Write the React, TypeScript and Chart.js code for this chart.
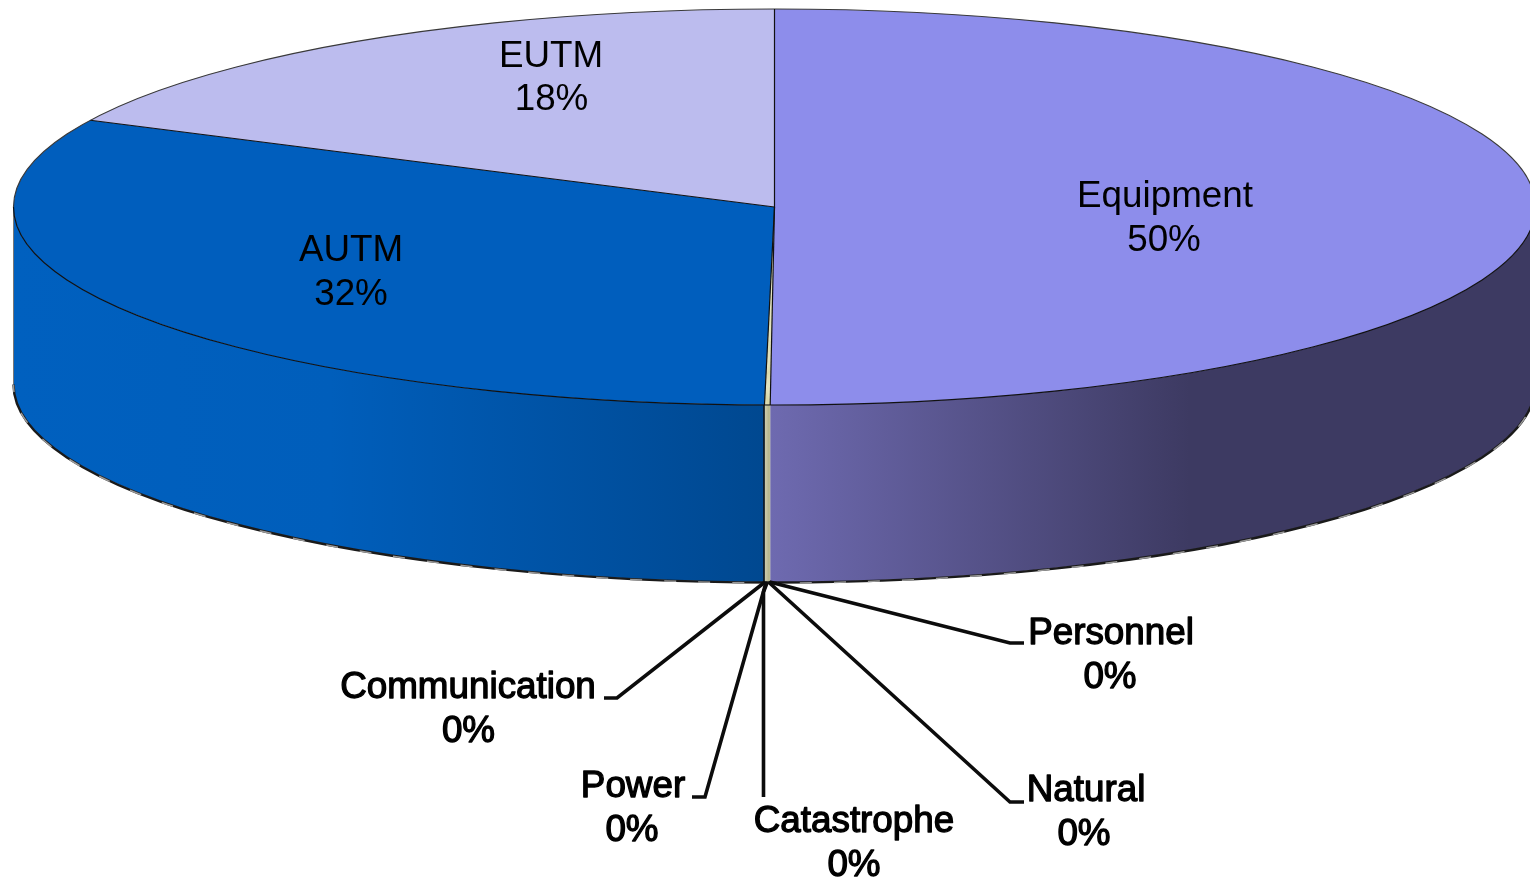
import React, { useEffect, useRef } from "react";
import { Chart, registerables } from "chart.js";

Chart.register(...registerables);

const categories = ["Equipment", "Personnel", "Natural", "Catastrophe", "Power", "Communication", "AUTM", "EUTM"];
const shares = [50.08, 0.024, 0.024, 0.024, 0.024, 0.024, 32.0, 17.78];
const topColors = ["#8d8deb", "#d8d8a8", "#d8d8a8", "#d8d8a8", "#d8d8a8", "#d8d8a8", "#005ebd", "#bcbcee"];
const wallStops: [number, string][][] = [
  [[770, "#6e6ab0"], [1190, "#3d3a62"], [1530, "#3d3a62"]],
  [[764, "#b8b88e"]], [[764, "#b8b88e"]], [[764, "#b8b88e"]], [[764, "#b8b88e"]], [[764, "#b8b88e"]],
  [[13, "#0060bf"], [330, "#005ebb"], [765, "#004890"]],
  [[13, "#bcbcee"]],
];

// layout of the picture, in canvas pixels
const WIDTH = 1530;
const HEIGHT = 878;
const CX = 774.5;
const CY = 207;
const RX = 761;
const RY = 198;
const DEPTH = 177;
const FONT = '36.8px "Liberation Sans", Arial, sans-serif';
const LINE_GAP = 43.6;

// name -> [name centre x, percent centre x, first baseline y, outside-label flag]
const labelPlaces: Record<string, [number, number, number, boolean]> = {
  Equipment: [1165, 1164, 207, false],
  AUTM: [351, 351, 261, false],
  EUTM: [551, 551.5, 66.5, false],
  Personnel: [1111, 1110, 644, true],
  Natural: [1086, 1084, 801, true],
  Catastrophe: [854, 854, 832, true],
  Power: [633, 632, 797, true],
  Communication: [468, 468.5, 698, true],
};
// name -> leader polyline after the point on the pie rim
const leaderPaths: Record<string, [number, number][]> = {
  Personnel: [[1010, 643], [1024, 643]],
  Natural: [[1010, 802], [1024, 802]],
  Catastrophe: [[763.5, 592], [763.5, 797]],
  Power: [[705, 797], [692, 797]],
  Communication: [[617, 698], [604, 698]],
};

const pie3d = {
  id: "pie3d",
  beforeDatasetsDraw(chart: any) {
    const { ctx } = chart;
    const arcs = chart.getDatasetMeta(0).data;
    ctx.save();
    arcs.forEach((arc: any, i: number) => {
      const a0 = Math.max(arc.startAngle, 0);
      const a1 = Math.min(arc.endAngle, Math.PI);
      if (a1 <= a0) return;
      const stops = wallStops[i];
      let fill: any = stops[0][1];
      if (stops.length > 1) {
        const x0 = stops[0][0];
        const x1 = stops[stops.length - 1][0];
        fill = ctx.createLinearGradient(x0, 0, x1, 0);
        stops.forEach(([x, c]) => fill.addColorStop((x - x0) / (x1 - x0), c));
      }
      ctx.beginPath();
      ctx.ellipse(CX, CY, RX, RY, 0, a0, a1);
      ctx.ellipse(CX, CY + DEPTH, RX, RY, 0, a1, a0, true);
      ctx.closePath();
      ctx.fillStyle = fill;
      ctx.fill();
    });
    // rim of the base
    ctx.beginPath();
    ctx.ellipse(CX, CY + DEPTH + 0.5, RX, RY, 0, 0, Math.PI);
    ctx.strokeStyle = "#1a1a1a";
    ctx.lineWidth = 2.4;
    ctx.stroke();
    ctx.beginPath();
    ctx.ellipse(CX, CY + DEPTH + 1, RX, RY, 0, 0, Math.PI);
    ctx.strokeStyle = "#999999";
    ctx.lineWidth = 1.5;
    ctx.setLineDash([12, 22]);
    ctx.stroke();
    ctx.setLineDash([]);
    ctx.beginPath();
    ctx.moveTo(CX - RX, CY);
    ctx.lineTo(CX - RX, CY + DEPTH);
    ctx.strokeStyle = "#777777";
    ctx.lineWidth = 1;
    ctx.stroke();
    // dark edge on the wall, left of the thin slices
    ctx.beginPath();
    ctx.moveTo(764, CY + RY);
    ctx.lineTo(764, CY + RY + DEPTH);
    ctx.strokeStyle = "#111111";
    ctx.lineWidth = 1.5;
    ctx.stroke();
    ctx.restore();

    // the library's circular pie, flattened to the ellipse
    const first = arcs[0];
    ctx.save();
    ctx.translate(CX, CY);
    ctx.scale(RX / first.outerRadius, RY / first.outerRadius);
    ctx.translate(-first.x, -first.y);
  },
  afterDatasetsDraw(chart: any) {
    const { ctx } = chart;
    ctx.restore();
    const arcs = chart.getDatasetMeta(0).data;

    ctx.save();
    // outlines of the top face
    ctx.lineWidth = 1.2;
    ctx.strokeStyle = "#3a3a3a";
    ctx.beginPath();
    ctx.ellipse(CX, CY, RX, RY, 0, Math.PI, Math.PI * 2);
    ctx.stroke();
    ctx.strokeStyle = "#111111";
    ctx.beginPath();
    ctx.ellipse(CX, CY, RX, RY, 0, 0, Math.PI);
    ctx.stroke();
    const spoke = (angle: number) => {
      ctx.beginPath();
      ctx.moveTo(CX, CY);
      ctx.lineTo(CX + RX * Math.cos(angle), CY + RY * Math.sin(angle));
      ctx.stroke();
    };
    const byName = (n: string) => arcs[categories.indexOf(n)];
    spoke(byName("EUTM").startAngle);
    spoke(byName("Equipment").startAngle);
    spoke(byName("AUTM").startAngle);
    spoke(byName("Equipment").endAngle);

    // leader lines from the base rim at each thin slice
    ctx.strokeStyle = "#0c0c0c";
    ctx.lineWidth = 3.6;
    ctx.lineJoin = "miter";
    Object.keys(leaderPaths).forEach((name) => {
      const arc = byName(name);
      const mid = (arc.startAngle + arc.endAngle) / 2;
      ctx.beginPath();
      ctx.moveTo(CX + RX * Math.cos(mid), CY + DEPTH + RY * Math.sin(mid));
      leaderPaths[name].forEach(([x, y]) => ctx.lineTo(x, y));
      ctx.stroke();
    });

    // labels
    const total = shares.reduce((a, b) => a + b, 0);
    ctx.font = FONT;
    ctx.textAlign = "center";
    ctx.textBaseline = "alphabetic";
    ctx.fillStyle = "#000000";
    categories.forEach((name, i) => {
      const [x, xp, y, outside] = labelPlaces[name];
      const pct = Math.round((shares[i] / total) * 100) + "%";
      ctx.fillText(name, x, y);
      ctx.fillText(pct, xp, y + LINE_GAP);
      if (outside) {
        ctx.strokeStyle = "#000000";
        ctx.lineWidth = 1.3;
        ctx.lineJoin = "round";
        ctx.strokeText(name, x, y);
        ctx.strokeText(pct, xp, y + LINE_GAP);
      }
    });
    ctx.restore();
  },
};

export default function App() {
  const ref = useRef<HTMLCanvasElement | null>(null);
  useEffect(() => {
    const chart = new Chart(ref.current as HTMLCanvasElement, {
      type: "pie",
      data: {
        labels: categories,
        datasets: [
          {
            data: shares,
            backgroundColor: topColors,
            borderWidth: 0,
            clip: false,
          } as any,
        ],
      },
      options: {
        animation: false,
        responsive: false,
        events: [],
        layout: { padding: 0 },
        plugins: { legend: { display: false }, tooltip: { enabled: false }, title: { display: false } },
      },
      plugins: [pie3d],
    });
    return () => chart.destroy();
  }, []);
  return (
    <div style={{ position: "absolute", left: 0, top: 0, width: WIDTH, height: HEIGHT, overflow: "hidden", background: "#ffffff" }}>
      <canvas ref={ref} width={WIDTH} height={HEIGHT} style={{ display: "block", filter: "blur(0.4px)" }} />
    </div>
  );
}
